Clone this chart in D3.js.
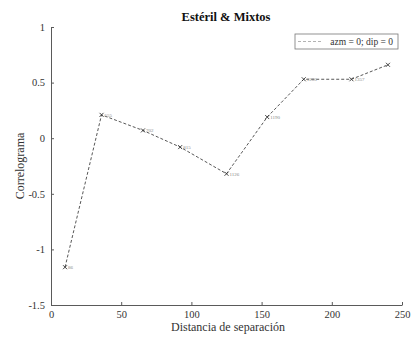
<!DOCTYPE html>
<html>
<head>
<meta charset="utf-8">
<script src="https://cdn.jsdelivr.net/npm/d3@7"></script>
<style>
  html, body { margin: 0; padding: 0; background: #fff; }
  svg { display: block; }
  text { font-family: "Liberation Serif", "DejaVu Serif", serif; }
</style>
</head>
<body>
<svg id="chart" width="413" height="337"></svg>
<script>
// Experimental correlogram, omnidirectional (azm = 0; dip = 0)
const lagDistance = [10, 36, 65.5, 92, 125, 154, 180, 214, 240];
const correlogram = [-1.16, 0.21, 0.07, -0.08, -0.32, 0.19, 0.53, 0.53, 0.66];
const pairCounts  = ["86", "555", "702", "815", "1126", "1190", "1280", "1357", ""];
const xTicks = [0, 50, 100, 150, 200, 250];
const yTicks = [-1.5, -1, -0.5, 0, 0.5, 1];

const svg = d3.select("#chart");
const plotLeft = 51, plotRight = 402, plotTop = 27, plotBottom = 305;

const x = d3.scaleLinear().domain([0, 250]).range([plotLeft, plotRight]);
const y = d3.scaleLinear().domain([-1.5, 1]).range([plotBottom, plotTop]);

const axisColor = "#5a5a5a";

// Bottom axis (ticks point inward)
const gx = svg.append("g")
  .attr("transform", `translate(0,${plotBottom})`)
  .call(d3.axisBottom(x).tickValues(xTicks).tickSizeInner(-3).tickSizeOuter(0).tickPadding(6)
        .tickFormat(d3.format("d")));
gx.selectAll("text").attr("font-size", 10.5).attr("fill", "#333");

// Left axis (ticks point inward)
const gy = svg.append("g")
  .attr("transform", `translate(${plotLeft},0)`)
  .call(d3.axisLeft(y).tickValues(yTicks).tickSizeInner(-3).tickSizeOuter(0).tickPadding(6)
        .tickFormat(d => String(d)));
gy.selectAll("text").attr("font-size", 10.5).attr("fill", "#333");

[gx, gy].forEach(g => {
  g.select(".domain").attr("stroke", axisColor).attr("stroke-width", 1);
  g.selectAll(".tick line").attr("stroke", axisColor);
});

// Correlogram line
const pts = lagDistance.map((d, i) => ({ x: d, y: correlogram[i], n: pairCounts[i] }));
const line = d3.line().x(d => x(d.x)).y(d => y(d.y));
svg.append("path")
  .datum(pts)
  .attr("d", line)
  .attr("fill", "none")
  .attr("stroke", "#444")
  .attr("stroke-width", 0.9)
  .attr("stroke-dasharray", "3,2");

// Cross markers
const s = 2;
svg.append("g").selectAll("path")
  .data(pts)
  .join("path")
  .attr("d", d => {
    const cx = x(d.x), cy = y(d.y);
    return `M${cx - s},${cy - s}L${cx + s},${cy + s}M${cx - s},${cy + s}L${cx + s},${cy - s}`;
  })
  .attr("stroke", "#333")
  .attr("stroke-width", 0.9);

// Number of pairs next to each lag
svg.append("g").selectAll("text")
  .data(pts)
  .join("text")
  .attr("x", d => x(d.x) + 3)
  .attr("y", d => y(d.y) + 2)
  .attr("font-size", 5)
  .attr("fill", "#888")
  .text(d => d.n);

// Title
svg.append("text")
  .attr("x", 226).attr("y", 21)
  .attr("text-anchor", "middle")
  .attr("font-size", 12.5).attr("font-weight", "bold").attr("fill", "#111")
  .text("Estéril & Mixtos");

// Axis titles
svg.append("text")
  .attr("x", 228).attr("y", 331)
  .attr("text-anchor", "middle")
  .attr("font-size", 12).attr("fill", "#333")
  .text("Distancia de separación");

svg.append("text")
  .attr("transform", "translate(24,166) rotate(-90)")
  .attr("text-anchor", "middle")
  .attr("font-size", 12).attr("fill", "#333")
  .text("Correlograma");

// Legend
const lg = svg.append("g");
lg.append("rect")
  .attr("x", 295).attr("y", 34).attr("width", 103).attr("height", 15)
  .attr("fill", "#fff").attr("stroke", "#777").attr("stroke-width", 0.8);
lg.append("line")
  .attr("x1", 298).attr("x2", 322).attr("y1", 41.5).attr("y2", 41.5)
  .attr("stroke", "#aaa").attr("stroke-width", 0.9).attr("stroke-dasharray", "3,2");
lg.append("text")
  .attr("x", 393).attr("y", 45)
  .attr("text-anchor", "end")
  .attr("font-size", 9.5).attr("fill", "#333")
  .text("azm = 0; dip = 0");
</script>
</body>
</html>
